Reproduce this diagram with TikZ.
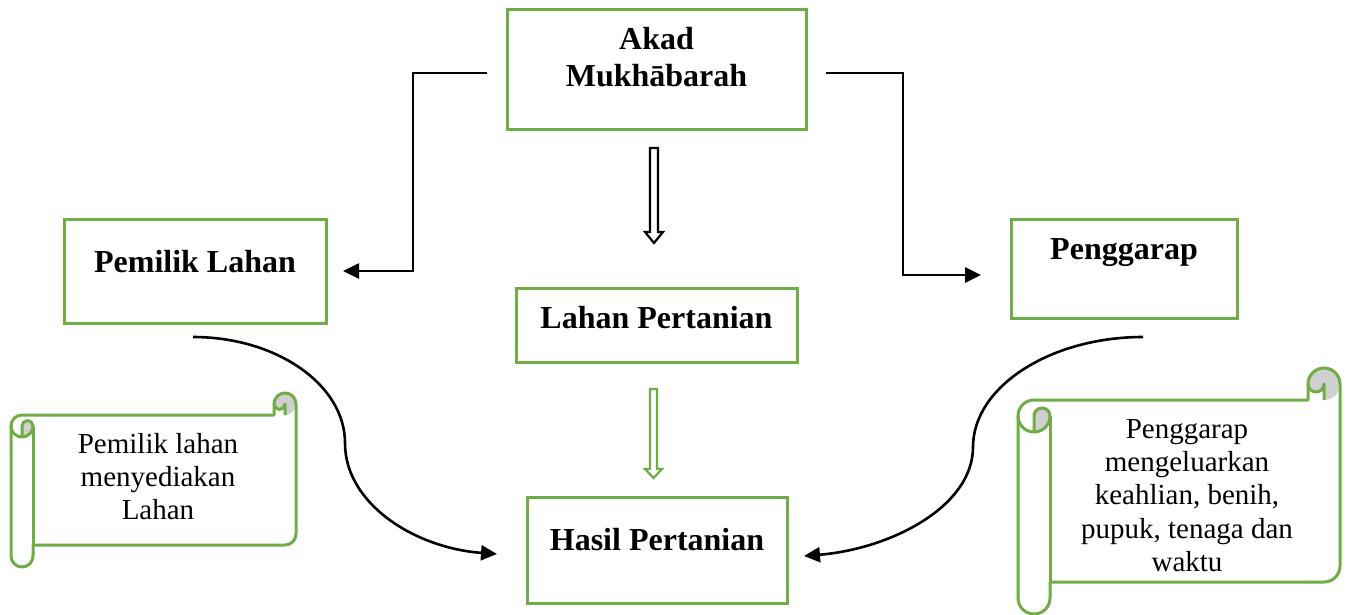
\documentclass[tikz,border=0pt]{standalone}
\usepackage{fontspec}
\setmainfont{Liberation Serif}
\usetikzlibrary{arrows.meta,calc}
\definecolor{boxgreen}{RGB}{112,173,71}
\definecolor{scrollgray}{RGB}{208,208,208}
% horizontal scroll: #1 left, #2 top, #3 right, #4 bottom, #5 roll size (y grows downward)
\newcommand\myscroll[5]{%
 \pgfmathsetmacro\scA{#5/2}%
 \pgfmathsetmacro\scB{#5/4}%
 \pgfmathsetmacro\scXc{#1+#5}%
 \pgfmathsetmacro\scXh{#1+#5/2}%
 \pgfmathsetmacro\scXthree{#3-#5}%
 \pgfmathsetmacro\scXfour{#3-#5/2}%
 \pgfmathsetmacro\scYh{#2+#5/2}%
 \pgfmathsetmacro\scYc{#2+#5}%
 \pgfmathsetmacro\scYthree{#2+1.5*#5}%
 \pgfmathsetmacro\scYfour{#2+2*#5}%
 \pgfmathsetmacro\scYfive{#4-1.5*#5}%
 \pgfmathsetmacro\scYsix{#4-#5}%
 \pgfmathsetmacro\scYseven{#4-#5/2}%
 \fill[white] (#1,\scYthree) arc[start angle=180,delta angle=90,radius=\scA]
   -- (\scXthree,\scYc) -- (\scXthree,\scYh) arc[start angle=180,delta angle=180,radius=\scA]
   -- (#3,\scYfive) arc[start angle=0,delta angle=90,radius=\scA]
   -- (\scXc,\scYsix) -- (\scXc,\scYseven) arc[start angle=0,delta angle=180,radius=\scA] -- cycle;
 \fill[scrollgray] (\scXthree,\scYh) arc[start angle=180,delta angle=180,radius=\scA]
   arc[start angle=0,delta angle=90,radius=\scA] -- (\scXfour,\scYh)
   arc[start angle=0,delta angle=180,radius=\scB] -- cycle;
 \fill[scrollgray] (\scXh,\scYfour) arc[start angle=90,delta angle=-90,radius=\scA]
   arc[start angle=0,delta angle=-180,radius=\scB] -- cycle;
 \draw[scrollline] (#1,\scYthree) arc[start angle=180,delta angle=90,radius=\scA]
   -- (\scXthree,\scYc) -- (\scXthree,\scYh) arc[start angle=180,delta angle=180,radius=\scA]
   -- (#3,\scYfive) arc[start angle=0,delta angle=90,radius=\scA]
   -- (\scXc,\scYsix) -- (\scXc,\scYseven) arc[start angle=0,delta angle=180,radius=\scA] -- cycle;
 \draw[scrollline] (\scXfour,\scYc) -- (\scXfour,\scYh) arc[start angle=0,delta angle=180,radius=\scB];
 \draw[scrollline] (\scXh,\scYfour) -- (\scXh,\scYthree) arc[start angle=180,delta angle=180,radius=\scB]
   arc[start angle=0,delta angle=180,radius=\scA];
 \draw[scrollline] (\scXc,\scYthree) -- (\scXc,\scYsix);
}
\begin{document}
\begin{tikzpicture}[x=1pt,y=-1pt,
  mainbox/.style={draw=boxgreen, line width=3pt, fill=white, inner sep=0pt, anchor=base,
    font=\fontsize{32}{37}\selectfont\bfseries},
  conn/.style={line width=2.6pt, -{Triangle[length=16pt,width=15pt]}},
  scrolltext/.style={anchor=base, font=\fontsize{29}{33.4}\selectfont},
  scrollline/.style={draw=boxgreen, line width=3pt, line join=round},
  hollowarrow/.style={line width=2.2pt, fill=white, line join=miter}]
\fill[white] (0,0) rectangle (1346,615);
\useasboundingbox (0,0) rectangle (1346,615);

% boxes
\node[mainbox, minimum width=299pt, text height=40pt, text depth=80pt] (akad) at (656.5,50)
  {\begin{tabular}[t]{@{}c@{}}Akad\\Mukhābarah\end{tabular}};
\node[mainbox, minimum width=262pt, text height=53pt, text depth=51pt] (pemilik) at (195,272) {Pemilik Lahan};
\node[mainbox, minimum width=281pt, text height=40pt, text depth=34pt] (lahan) at (656.5,328) {Lahan Pertanian};
\node[mainbox, minimum width=226pt, text height=40pt, text depth=59pt] (penggarap) at (1124,259) {Penggarap};
\node[mainbox, minimum width=260pt, text height=53pt, text depth=53pt] (hasil) at (657,550) {Hasil Pertanian};

% scrolls
\myscroll{11}{393}{296}{567}{22}
\node[scrolltext] (ket1) at (158,453)
  {\begin{tabular}[t]{@{}c@{}}Pemilik lahan\\menyediakan\\Lahan\end{tabular}};
\myscroll{1018}{368}{1340}{614}{32}
\node[scrolltext] (ket2) at (1187,438)
  {\begin{tabular}[t]{@{}c@{}}Penggarap\\mengeluarkan\\keahlian, benih,\\pupuk, tenaga dan\\waktu\end{tabular}};

% elbow connectors
\coordinate (e1s) at (487,73);
\coordinate (e1e) at (343,271);
\coordinate (e2s) at (826,73);
\coordinate (e2e) at (981,275);
\draw[conn] (e1s) -- (413,73) |- (e1e);
\draw[conn] (e2s) -- (903,73) |- (e2e);

% hollow block arrows
\coordinate (h1) at (654,148);
\draw[hollowarrow, draw=black] (h1) ++(-4,0) -- ++(8,0) -- ++(0,84) -- ++(5,0) -- ++(-9,11)
  -- ++(-9,-11) -- ++(5,0) -- cycle;
\coordinate (h2) at (653.5,389);
\draw[hollowarrow, draw=boxgreen] (h2) ++(-3.5,0) -- ++(7,0) -- ++(0,80) -- ++(5,0) -- ++(-8.5,9)
  -- ++(-8.5,-9) -- ++(5,0) -- cycle;

% curved connectors
\coordinate (c1s) at (193,337);
\coordinate (c1m) at (345,443);
\coordinate (c1e) at (497,554);
\draw[conn] (c1s) .. controls (277,337) and (345,385) .. (c1m)
  .. controls (345,504) and (415,548) .. (c1e);
\coordinate (c2s) at (1143,337);
\coordinate (c2m) at (973,447);
\coordinate (c2e) at (804,556);
\draw[conn] (c2s) .. controls (1050,337) and (973,387) .. (c2m)
  .. controls (973,507) and (890,549) .. (c2e);
\end{tikzpicture}
\end{document}
